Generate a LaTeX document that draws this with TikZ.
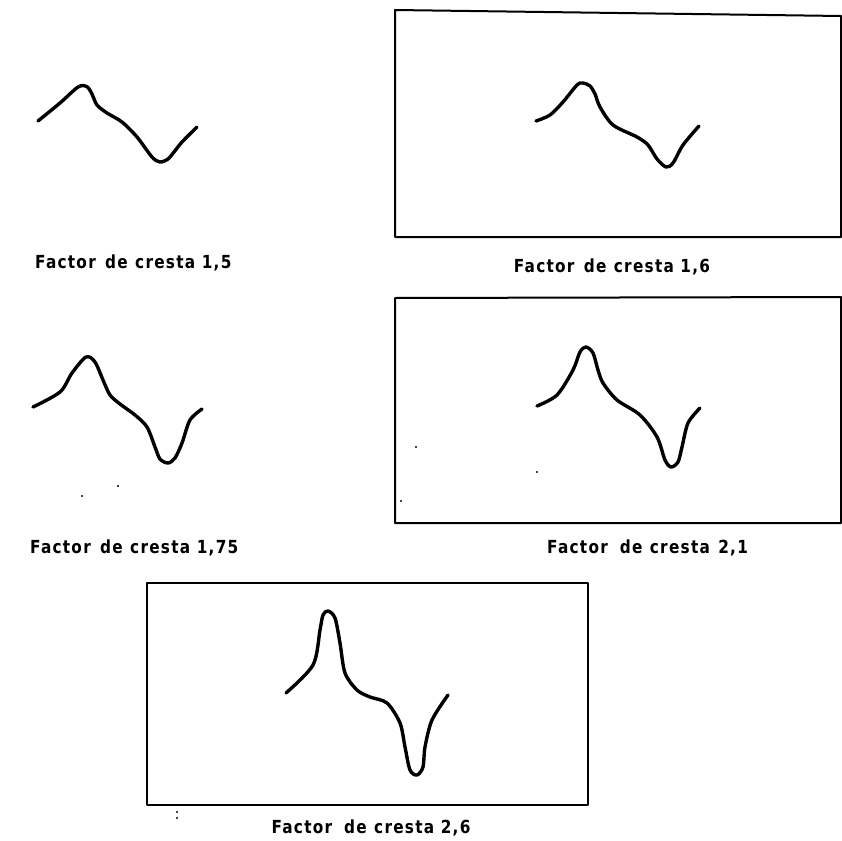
\documentclass[tikz,border=0pt]{standalone}
\usepackage{fontspec}
\newfontfamily\labfont[LetterSpace=7,FakeStretch=0.85]{DejaVu Sans}
\begin{document}
\begin{tikzpicture}[x=1pt,y=-1pt,
  wave/.style={line width=3.4pt, line cap=round, line join=round},
  frame/.style={line width=2pt, line join=round},
  lab/.style={font=\labfont\bfseries\fontsize{18}{21}\selectfont, inner sep=0pt},
  speck/.style={fill=black, circle, inner sep=0pt, minimum size=2.2pt}]
\useasboundingbox (0,0) rectangle (842,840);

% panel 1 (no frame)
\draw[wave] plot[smooth, tension=0.5] coordinates {(38,121) (60,103) (72,92) (78,87) (83,85.5) (88,87.5) (92,94) (97,105) (107,113) (122,122) (137,137) (152,157) (160,162) (168,159) (174,152) (182,142) (197,127)};
\node[lab, anchor=base west] (l1) at (35,268) {Factor\hspace{0.15em} de\hspace{0.05em} cresta 1,5};

% panel 2
\draw[frame] (395,10) -- (841,16) -- (841,237) -- (395,237) -- cycle;
\draw[wave] plot[smooth, tension=0.5] coordinates {(536,121) (550,115) (563,102) (577,85) (583,83) (590,86) (595,94) (600,107) (613,125) (637,137) (648,145) (657,159) (666,167) (673,163) (683,145) (699,126)};
\node[lab, anchor=base] (l2) at (612,272) {Factor\hspace{0.15em} de\hspace{0.05em} cresta 1,6};

% panel 3 (no frame)
\draw[wave] plot[smooth, tension=0.5] coordinates {(33,407) (60,392) (72,373) (86,357) (95,362) (103,380) (110,395) (120,404) (135,415) (147,427) (155,447) (160,459) (168,463) (175,458) (182,443) (190,420) (202,409)};
\node[speck] (s1) at (82,496) {};
\node[speck] (s2) at (118,486) {};
\node[lab, anchor=base west] (l3) at (30,553) {Factor\hspace{0.15em} de\hspace{0.05em} cresta 1,75};

% panel 4
\draw[frame] (395,298) -- (841,297) -- (841,523) -- (395,523) -- cycle;
\draw[wave] plot[smooth, tension=0.5] coordinates {(537,406) (557,395) (573,370) (580,352) (586,347) (593,353) (598,370) (603,383) (617,400) (640,415) (657,437) (665,460) (671,467) (678,462) (682,447) (688,423) (700,408)};
\node[speck] (s3) at (416,447) {};
\node[speck] (s4) at (537,472) {};
\node[speck] (s5) at (401,501) {};
\node[lab, anchor=base west] (l4) at (547,553) {Factor\hspace{0.3em} de\hspace{0.05em} cresta\hspace{0.1em} 2,1};

% panel 5
\draw[frame] (147,583) -- (588,583) -- (588,805) -- (147,805) -- cycle;
\draw[wave] plot[smooth, tension=0.5] coordinates {(286,693) (313,665) (320,630) (323,615) (328,611) (335,618) (340,643) (345,673) (357,690) (370,697) (387,703) (400,723) (405,747) (410,770) (417,775) (423,767) (425,747) (432,720) (448,695)};
\node[speck] (s6) at (177,812) {};
\node[speck] (s7) at (177,818) {};
\node[lab, anchor=base] (l5) at (371,833) {Factor\hspace{0.3em} de\hspace{0.05em} cresta 2,6};
\end{tikzpicture}
\end{document}
